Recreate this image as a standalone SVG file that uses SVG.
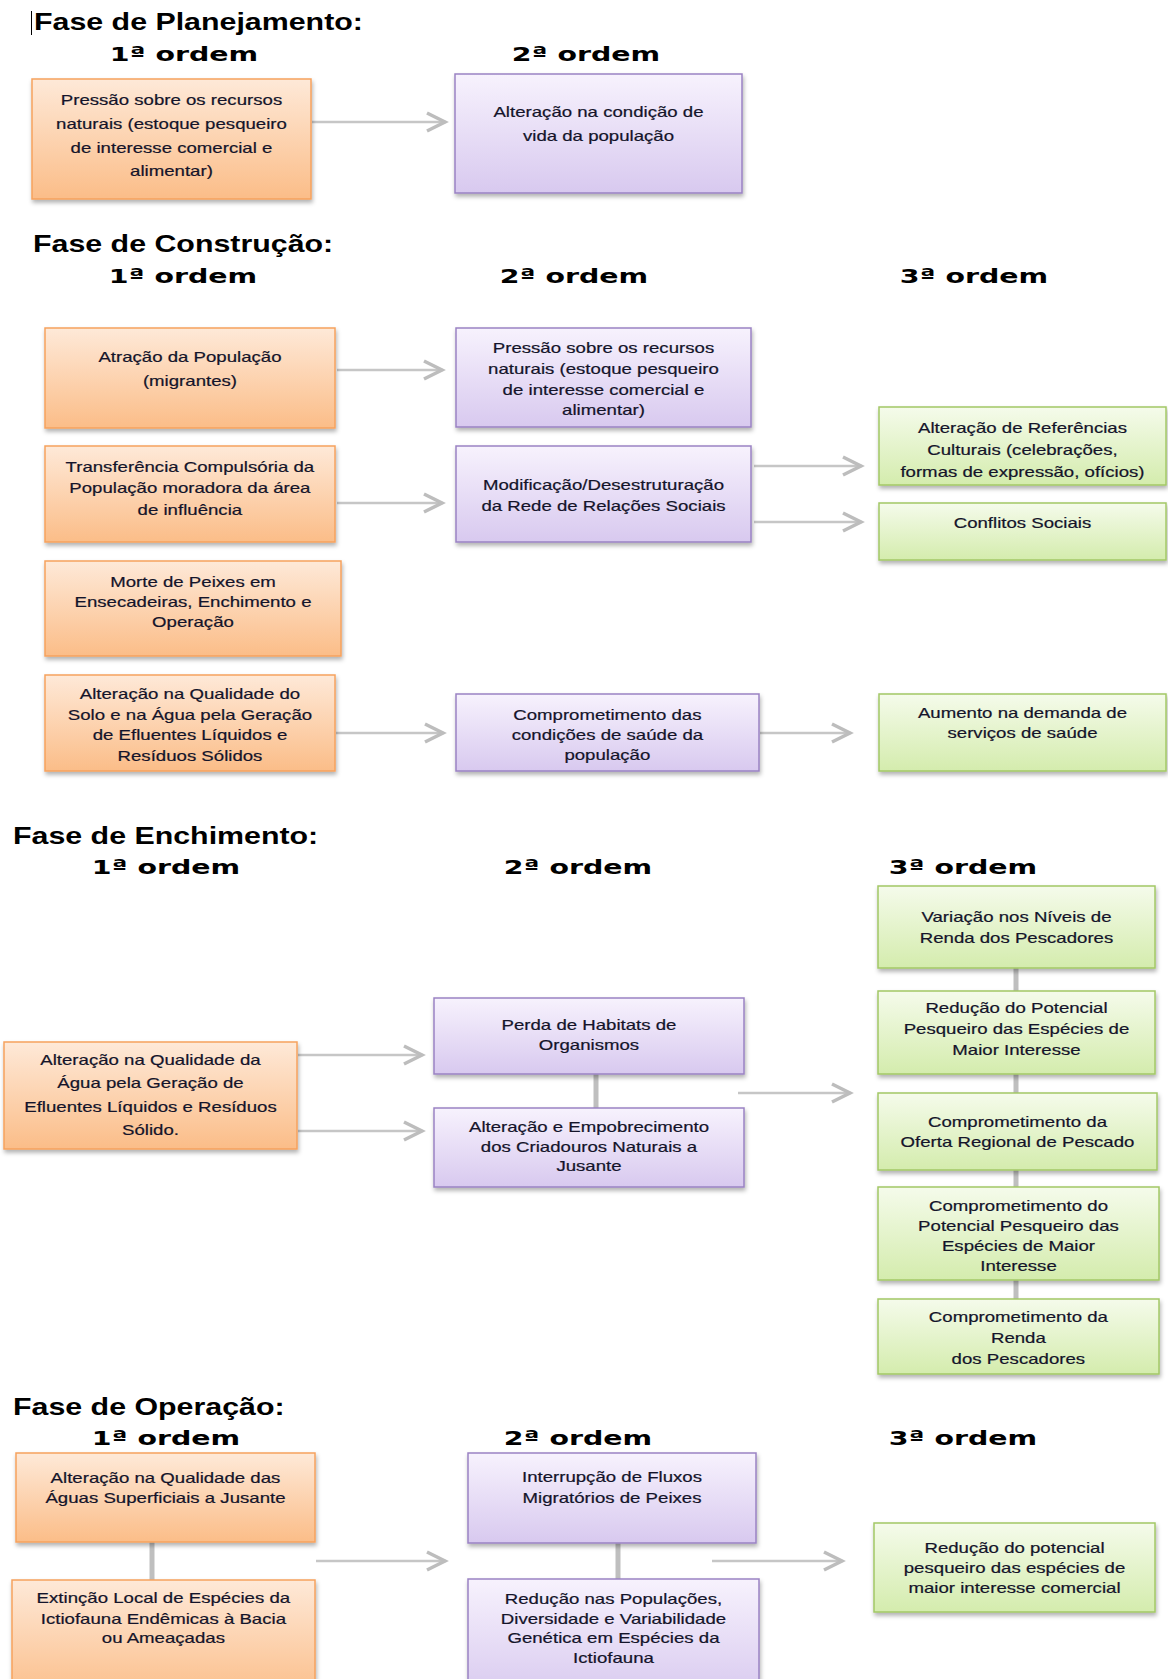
<svg xmlns="http://www.w3.org/2000/svg" width="1168" height="1679" viewBox="0 0 1168 1679">
<defs>
<linearGradient id="gOr" x1="0" y1="0" x2="0" y2="1"><stop offset="0" stop-color="#fee9d8"/><stop offset="1" stop-color="#fbbd88"/></linearGradient>
<linearGradient id="gPu" x1="0" y1="0" x2="0" y2="1"><stop offset="0" stop-color="#f7f2fd"/><stop offset="1" stop-color="#d8c9ef"/></linearGradient>
<linearGradient id="gGr" x1="0" y1="0" x2="0" y2="1"><stop offset="0" stop-color="#f5fbeb"/><stop offset="1" stop-color="#d4ecad"/></linearGradient>
<filter id="sh" x="-10%" y="-10%" width="120%" height="130%"><feDropShadow dx="1" dy="3" stdDeviation="2" flood-color="#000" flood-opacity="0.3"/></filter>
<marker id="chev" markerUnits="userSpaceOnUse" viewBox="-24 -14 30 28" markerWidth="30" markerHeight="28" refX="0" refY="0" orient="auto" overflow="visible">
<path d="M-19,-9 L-1,0 L-19,9" fill="none" stroke="#bdbdbd" stroke-width="3.5"/>
</marker>
<style>
.or{fill:url(#gOr);stroke:#f6a25e;stroke-width:1.5;filter:url(#sh)}
.pu{fill:url(#gPu);stroke:#9a82c3;stroke-width:1.5;filter:url(#sh)}
.gr{fill:url(#gGr);stroke:#a3c866;stroke-width:1.5;filter:url(#sh)}
.tx{font-family:"Liberation Sans",Arial,sans-serif;font-size:14px;fill:#14142a;stroke:#14142a;stroke-width:0.2;text-anchor:middle;transform-box:fill-box;transform-origin:center;transform:scaleX(1.33)}
.ttl{font-family:"Liberation Sans",Arial,sans-serif;font-weight:bold;font-size:23px;fill:#000;transform-box:fill-box;transform-origin:left center;transform:scaleX(1.32)}
.ord{font-family:"DejaVu Sans",sans-serif;font-weight:bold;font-size:20px;fill:#000;text-anchor:middle;transform-box:fill-box;transform-origin:center;transform:scaleX(1.42)}
.ar{stroke:#c6c6c6;stroke-width:2.5;fill:none;marker-end:url(#chev)}
.vc{stroke:#bfbfbf;stroke-width:5;fill:none}
</style>
</defs>
<rect width="1168" height="1679" fill="#fff"/>

<g id="headings">
<line x1="31.5" y1="11" x2="31.5" y2="35" stroke="#000" stroke-width="1"/>
<text class="ttl" x="34" y="30">Fase de Planejamento:</text>
<text class="ord" x="184" y="61">1ª ordem</text>
<text class="ord" x="586" y="61">2ª ordem</text>
<text class="ttl" x="33" y="252">Fase de Construção:</text>
<text class="ord" x="183" y="283">1ª ordem</text>
<text class="ord" x="574" y="283">2ª ordem</text>
<text class="ord" x="974" y="283">3ª ordem</text>
<text class="ttl" x="13" y="844">Fase de Enchimento:</text>
<text class="ord" x="166" y="874">1ª ordem</text>
<text class="ord" x="578" y="874">2ª ordem</text>
<text class="ord" x="963" y="874">3ª ordem</text>
<text class="ttl" x="13" y="1415">Fase de Operação:</text>
<text class="ord" x="166" y="1445">1ª ordem</text>
<text class="ord" x="578" y="1445">2ª ordem</text>
<text class="ord" x="963" y="1445">3ª ordem</text>
</g>

<g id="connectors">
<line class="ar" x1="312" y1="122" x2="446" y2="122"/>
<line class="ar" x1="337" y1="370" x2="443" y2="370"/>
<line class="ar" x1="337" y1="503" x2="443" y2="503"/>
<line class="ar" x1="754" y1="466" x2="862" y2="466"/>
<line class="ar" x1="754" y1="522" x2="862" y2="522"/>
<line class="ar" x1="336" y1="733" x2="444" y2="733"/>
<line class="ar" x1="760" y1="733" x2="851" y2="733"/>
<line class="ar" x1="298" y1="1055" x2="423" y2="1055"/>
<line class="ar" x1="298" y1="1131" x2="423" y2="1131"/>
<line class="ar" x1="738" y1="1093" x2="851" y2="1093"/>
<line class="ar" x1="316" y1="1561" x2="446" y2="1561"/>
<line class="ar" x1="712" y1="1561" x2="843" y2="1561"/>
<line class="vc" x1="596" y1="1074" x2="596" y2="1108"/>
<line class="vc" x1="1016" y1="968" x2="1016" y2="991"/>
<line class="vc" x1="1016" y1="1074" x2="1016" y2="1093"/>
<line class="vc" x1="1016" y1="1170" x2="1016" y2="1187"/>
<line class="vc" x1="1016" y1="1280" x2="1016" y2="1299"/>
<line class="vc" x1="152" y1="1542" x2="152" y2="1580"/>
<line class="vc" x1="618" y1="1543" x2="618" y2="1579"/>
</g>

<g id="plan-1">
<rect class="or" x="32" y="79" width="279" height="120"/>
<text class="tx"><tspan x="171.5" y="105">Pressão sobre os recursos</tspan><tspan x="171.5" y="129">naturais (estoque pesqueiro</tspan><tspan x="171.5" y="153">de interesse comercial e</tspan><tspan x="171.5" y="176">alimentar)</tspan></text>
</g>
<g id="plan-2">
<rect class="pu" x="455" y="74" width="287" height="119"/>
<text class="tx"><tspan x="598.5" y="117">Alteração na condição de</tspan><tspan x="598.5" y="141">vida da população</tspan></text>
</g>

<g id="cons-1a">
<rect class="or" x="45" y="328" width="290" height="100"/>
<text class="tx"><tspan x="190" y="362">Atração da População</tspan><tspan x="190" y="386">(migrantes)</tspan></text>
</g>
<g id="cons-2a">
<rect class="pu" x="456" y="328" width="295" height="99"/>
<text class="tx"><tspan x="603.5" y="353">Pressão sobre os recursos</tspan><tspan x="603.5" y="374">naturais (estoque pesqueiro</tspan><tspan x="603.5" y="395">de interesse comercial e</tspan><tspan x="603.5" y="415">alimentar)</tspan></text>
</g>
<g id="cons-1b">
<rect class="or" x="45" y="446" width="290" height="96"/>
<text class="tx"><tspan x="190" y="472">Transferência Compulsória da</tspan><tspan x="190" y="493">População moradora da área</tspan><tspan x="190" y="515">de influência</tspan></text>
</g>
<g id="cons-2b">
<rect class="pu" x="456" y="446" width="295" height="96"/>
<text class="tx"><tspan x="603.5" y="490">Modificação/Desestruturação</tspan><tspan x="603.5" y="511">da Rede de Relações Sociais</tspan></text>
</g>
<g id="cons-3a">
<rect class="gr" x="879" y="407" width="287" height="78"/>
<text class="tx"><tspan x="1022.5" y="433">Alteração de Referências</tspan><tspan x="1022.5" y="455">Culturais (celebrações,</tspan><tspan x="1022.5" y="477">formas de expressão, ofícios)</tspan></text>
</g>
<g id="cons-3b">
<rect class="gr" x="879" y="503" width="287" height="57"/>
<text class="tx"><tspan x="1022.5" y="528">Conflitos Sociais</tspan></text>
</g>
<g id="cons-1c">
<rect class="or" x="45" y="561" width="296" height="95"/>
<text class="tx"><tspan x="193" y="587">Morte de Peixes em</tspan><tspan x="193" y="607">Ensecadeiras, Enchimento e</tspan><tspan x="193" y="627">Operação</tspan></text>
</g>
<g id="cons-1d">
<rect class="or" x="45" y="675" width="290" height="96"/>
<text class="tx"><tspan x="190" y="699">Alteração na Qualidade do</tspan><tspan x="190" y="720">Solo e na Água pela Geração</tspan><tspan x="190" y="740">de Efluentes Líquidos e</tspan><tspan x="190" y="761">Resíduos Sólidos</tspan></text>
</g>
<g id="cons-2c">
<rect class="pu" x="456" y="694" width="303" height="77"/>
<text class="tx"><tspan x="607.5" y="720">Comprometimento das</tspan><tspan x="607.5" y="740">condições de saúde da</tspan><tspan x="607.5" y="760">população</tspan></text>
</g>
<g id="cons-3c">
<rect class="gr" x="879" y="694" width="287" height="77"/>
<text class="tx"><tspan x="1022.5" y="718">Aumento na demanda de</tspan><tspan x="1022.5" y="738">serviços de saúde</tspan></text>
</g>

<g id="ench-1">
<rect class="or" x="4" y="1042" width="293" height="107"/>
<text class="tx"><tspan x="150.5" y="1065">Alteração na Qualidade da</tspan><tspan x="150.5" y="1088">Água pela Geração de</tspan><tspan x="150.5" y="1112">Efluentes Líquidos e Resíduos</tspan><tspan x="150.5" y="1135">Sólido.</tspan></text>
</g>
<g id="ench-2a">
<rect class="pu" x="434" y="998" width="310" height="76"/>
<text class="tx"><tspan x="589" y="1030">Perda de Habitats de</tspan><tspan x="589" y="1050">Organismos</tspan></text>
</g>
<g id="ench-2b">
<rect class="pu" x="434" y="1108" width="310" height="79"/>
<text class="tx"><tspan x="589" y="1132">Alteração e Empobrecimento</tspan><tspan x="589" y="1152">dos Criadouros Naturais a</tspan><tspan x="589" y="1171">Jusante</tspan></text>
</g>
<g id="ench-3a">
<rect class="gr" x="878" y="886" width="277" height="82"/>
<text class="tx"><tspan x="1016.5" y="922">Variação nos Níveis de</tspan><tspan x="1016.5" y="943">Renda dos Pescadores</tspan></text>
</g>
<g id="ench-3b">
<rect class="gr" x="878" y="991" width="277" height="83"/>
<text class="tx"><tspan x="1016.5" y="1013">Redução do Potencial</tspan><tspan x="1016.5" y="1034">Pesqueiro das Espécies de</tspan><tspan x="1016.5" y="1055">Maior Interesse</tspan></text>
</g>
<g id="ench-3c">
<rect class="gr" x="878" y="1093" width="279" height="77"/>
<text class="tx"><tspan x="1017.5" y="1127">Comprometimento da</tspan><tspan x="1017.5" y="1147">Oferta Regional de Pescado</tspan></text>
</g>
<g id="ench-3d">
<rect class="gr" x="878" y="1187" width="281" height="93"/>
<text class="tx"><tspan x="1018.5" y="1211">Comprometimento do</tspan><tspan x="1018.5" y="1231">Potencial Pesqueiro das</tspan><tspan x="1018.5" y="1251">Espécies de Maior</tspan><tspan x="1018.5" y="1271">Interesse</tspan></text>
</g>
<g id="ench-3e">
<rect class="gr" x="878" y="1299" width="281" height="75"/>
<text class="tx"><tspan x="1018.5" y="1322">Comprometimento da</tspan><tspan x="1018.5" y="1343">Renda</tspan><tspan x="1018.5" y="1364">dos Pescadores</tspan></text>
</g>

<g id="oper-1a">
<rect class="or" x="16" y="1453" width="299" height="89"/>
<text class="tx"><tspan x="165.5" y="1483">Alteração na Qualidade das</tspan><tspan x="165.5" y="1503">Águas Superficiais a Jusante</tspan></text>
</g>
<g id="oper-1b">
<rect class="or" x="12" y="1580" width="303" height="120"/>
<text class="tx"><tspan x="163.5" y="1603">Extinção Local de Espécies da</tspan><tspan x="163.5" y="1624">Ictiofauna Endêmicas à Bacia</tspan><tspan x="163.5" y="1643">ou Ameaçadas</tspan></text>
</g>
<g id="oper-2a">
<rect class="pu" x="468" y="1453" width="288" height="90"/>
<text class="tx"><tspan x="612" y="1482">Interrupção de Fluxos</tspan><tspan x="612" y="1503">Migratórios de Peixes</tspan></text>
</g>
<g id="oper-2b">
<rect class="pu" x="468" y="1579" width="291" height="120"/>
<text class="tx"><tspan x="613.5" y="1604">Redução nas Populações,</tspan><tspan x="613.5" y="1624">Diversidade e Variabilidade</tspan><tspan x="613.5" y="1643">Genética em Espécies da</tspan><tspan x="613.5" y="1663">Ictiofauna</tspan></text>
</g>
<g id="oper-3">
<rect class="gr" x="874" y="1523" width="281" height="89"/>
<text class="tx"><tspan x="1014.5" y="1553">Redução do potencial</tspan><tspan x="1014.5" y="1573">pesqueiro das espécies de</tspan><tspan x="1014.5" y="1593">maior interesse comercial</tspan></text>
</g>
</svg>
